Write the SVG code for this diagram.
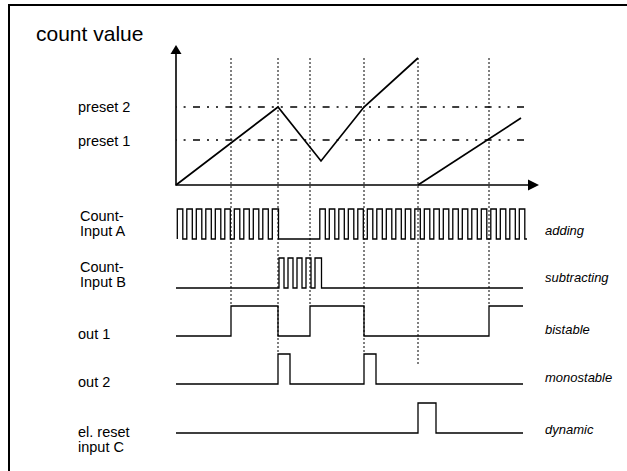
<svg xmlns="http://www.w3.org/2000/svg" width="627" height="471" viewBox="0 0 627 471">
<style>
text{font-family:"Liberation Sans",Arial,sans-serif;fill:#000}
.lbl{font-size:14.5px}
.it{font-size:13px;font-style:italic}
.sig{fill:none;stroke:#000;stroke-width:1.3}
.dot{fill:none;stroke:#000;stroke-width:1;stroke-dasharray:2 2}
.dd{fill:none;stroke:#000;stroke-width:1.3;stroke-dasharray:7 7 2 7 2 7.4;stroke-dashoffset:15.4}
.ax{fill:none;stroke:#000;stroke-width:1.6}
</style>
<rect width="627" height="471" fill="#fff"/>
<path d="M9,471 V5 H627" fill="none" stroke="#000" stroke-width="2"/>
<g id="title"><text x="36" y="41" style="font-size:21px">count value</text></g>
<g id="axes">
<path class="ax" d="M176,53 V185 H529"/>
<polygon points="176,45 170.5,54 181.5,54"/>
<polygon points="539,185 528,179.5 528,190.5"/>
</g>
<g id="presets">
<path class="dd" d="M176,107 H524"/>
<path class="dd" d="M176,140 H524"/>
<text class="lbl" x="78" y="112">preset 2</text>
<text class="lbl" x="78" y="146">preset 1</text>
</g>
<g id="connectors">
<path class="dot" d="M231,58 V306"/>
<path class="dot" d="M278,58 V354"/>
<path class="dot" d="M310,58 V306"/>
<path class="dot" d="M364,58 V354"/>
<path class="dot" d="M418,58 V364"/>
<path class="dot" d="M489,58 V306"/>
</g>
<g id="count-curve">
<polyline fill="none" stroke="#000" stroke-width="1.7" points="176,185 278,107 321,161 364,107 418,58"/>
<line x1="418" y1="185" x2="521" y2="118" stroke="#000" stroke-width="1.7"/>
</g>
<g id="input-a">
<path class="sig" d="M177.3,239 V209 H182.8 V239 H186.8 V209 H192.3 V239 H196.3 V209 H201.8 V239 H205.8 V209 H211.3 V239 H215.3 V209 H220.8 V239 H224.8 V209 H230.3 V239 H234.3 V209 H239.8 V239 H243.8 V209 H249.3 V239 H253.3 V209 H258.8 V239 H262.8 V209 H268.3 V239 H272.3 V209 H278.5 V239 H319.8 V209 H325.3 V239 H329.3 V209 H334.8 V239 H338.8 V209 H344.3 V239 H348.3 V209 H353.8 V239 H357.8 V209 H363.3 V239 H367.3 V209 H372.8 V239 H376.8 V209 H382.3 V239 H386.3 V209 H391.8 V239 H395.8 V209 H401.3 V239 H405.3 V209 H410.8 V239 H414.8 V209 H420.3 V239 H424.3 V209 H429.8 V239 H433.8 V209 H439.3 V239 H443.3 V209 H448.8 V239 H452.8 V209 H458.3 V239 H462.3 V209 H467.8 V239 H471.8 V209 H477.3 V239 H481.3 V209 H486.8 V239 H490.8 V209 H496.3 V239 H500.3 V209 H505.8 V239 H509.8 V209 H515.3 V239 H519.3 V209 H524.8 V239 H527"/>
<text class="lbl" x="80" y="221">Count-</text>
<text class="lbl" x="80" y="236">Input A</text>
<text class="it" x="545" y="235">adding</text>
</g>
<g id="input-b">
<path class="sig" d="M176,288 H279 V258 H284 V288 H288 V258 H293 V288 H297 V258 H302 V288 H306 V258 H311 V288 H315 V258 H321.5 V288 H523"/>
<text class="lbl" x="80" y="272">Count-</text>
<text class="lbl" x="80" y="287">Input B</text>
<text class="it" x="545" y="282">subtracting</text>
</g>
<g id="out1">
<path class="sig" d="M176,336 H231 V306 H278 V336 H310 V306 H364 V336 H489 V306 H523"/>
<text class="lbl" x="78" y="339">out 1</text>
<text class="it" x="545" y="334">bistable</text>
</g>
<g id="out2">
<path class="sig" d="M176,384 H278 V354 H290 V384 H364 V354 H376 V384 H523"/>
<text class="lbl" x="78" y="387">out 2</text>
<text class="it" x="545" y="382">monostable</text>
</g>
<g id="reset">
<path class="sig" d="M176,433 H418 V403 H436 V433 H523"/>
<text class="lbl" x="78" y="437">el. reset</text>
<text class="lbl" x="78" y="452">input C</text>
<text class="it" x="545" y="434">dynamic</text>
</g>
</svg>
